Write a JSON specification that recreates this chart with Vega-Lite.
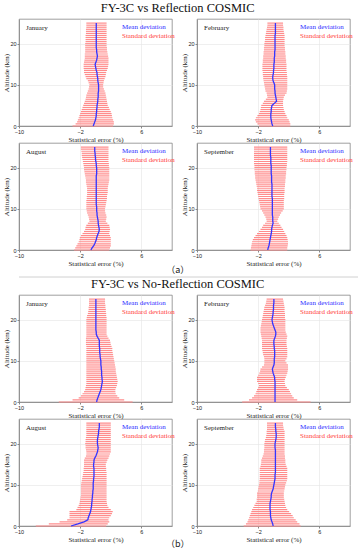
{
"$schema": "https://vega.github.io/schema/vega-lite/v6.json",
"padding": {"left": 2, "top": 2, "right": 0, "bottom": 0},
"autosize": {"type": "pad"},
"spacing": 0,
"datasets": {
"aJan": [
{"h":0,"m":-0.3,"l":-3.0,"u":2.3},{"h":0.5,"m":-0.2,"l":-2.6,"u":2.4},{"h":1,"m":-0.1,"l":-2.4,"u":2.4},{"h":1.5,"m":0.0,"l":-2.3,"u":2.3},{"h":2,"m":0.05,"l":-2.2,"u":2.2},{"h":2.5,"m":0.1,"l":-2.1,"u":2.15},{"h":3,"m":0.1,"l":-2.0,"u":2.1},{"h":3.5,"m":0.15,"l":-1.9,"u":2.0},{"h":4,"m":0.15,"l":-1.8,"u":1.85},{"h":4.5,"m":0.2,"l":-1.7,"u":1.75},{"h":5,"m":0.2,"l":-1.6,"u":1.6},{"h":5.5,"m":0.25,"l":-1.5,"u":1.55},{"h":6,"m":0.3,"l":-1.4,"u":1.5},{"h":6.5,"m":0.3,"l":-1.3,"u":1.45},{"h":7,"m":0.35,"l":-1.25,"u":1.4},{"h":7.5,"m":0.35,"l":-1.2,"u":1.35},{"h":8,"m":0.35,"l":-1.1,"u":1.3},{"h":8.5,"m":0.4,"l":-1.0,"u":1.2},{"h":9,"m":0.4,"l":-0.9,"u":1.1},{"h":9.5,"m":0.4,"l":-0.85,"u":1.0},{"h":10,"m":0.4,"l":-0.8,"u":1.0},{"h":10.5,"m":0.35,"l":-0.9,"u":1.05},{"h":11,"m":0.3,"l":-1.0,"u":1.1},{"h":11.5,"m":0.3,"l":-1.2,"u":1.2},{"h":12,"m":0.25,"l":-1.3,"u":1.3},{"h":12.5,"m":0.2,"l":-1.4,"u":1.35},{"h":13,"m":0.2,"l":-1.5,"u":1.4},{"h":13.5,"m":0.1,"l":-1.5,"u":1.5},{"h":14,"m":0.05,"l":-1.55,"u":1.6},{"h":14.5,"m":0.0,"l":-1.55,"u":1.65},{"h":15,"m":-0.05,"l":-1.55,"u":1.7},{"h":15.5,"m":0.05,"l":-1.5,"u":1.7},{"h":16,"m":0.15,"l":-1.45,"u":1.7},{"h":16.5,"m":0.2,"l":-1.4,"u":1.7},{"h":17,"m":0.25,"l":-1.4,"u":1.65},{"h":17.5,"m":0.2,"l":-1.4,"u":1.6},{"h":18,"m":0.15,"l":-1.35,"u":1.55},{"h":18.5,"m":0.15,"l":-1.35,"u":1.5},{"h":19,"m":0.1,"l":-1.35,"u":1.5},{"h":19.5,"m":0.1,"l":-1.35,"u":1.45},{"h":20,"m":0.1,"l":-1.35,"u":1.45},{"h":20.5,"m":0.1,"l":-1.3,"u":1.45},{"h":21,"m":0.1,"l":-1.3,"u":1.45},{"h":21.5,"m":0.1,"l":-1.3,"u":1.45},{"h":22,"m":0.1,"l":-1.3,"u":1.45},{"h":22.5,"m":0.1,"l":-1.25,"u":1.45},{"h":23,"m":0.1,"l":-1.25,"u":1.45},{"h":23.5,"m":0.1,"l":-1.25,"u":1.45},{"h":24,"m":0.1,"l":-1.2,"u":1.45},{"h":24.5,"m":0.1,"l":-1.2,"u":1.45},{"h":25,"m":0.1,"l":-1.2,"u":1.45}
],
"aFeb": [
{"h":0,"m":-0.1,"l":-1.9,"u":2.2},{"h":0.5,"m":-0.2,"l":-2.1,"u":2.2},{"h":1,"m":-0.25,"l":-2.3,"u":2.1},{"h":1.5,"m":-0.3,"l":-2.4,"u":2.0},{"h":2,"m":-0.35,"l":-2.3,"u":1.8},{"h":2.5,"m":-0.35,"l":-2.1,"u":1.7},{"h":3,"m":-0.35,"l":-1.9,"u":1.55},{"h":3.5,"m":-0.3,"l":-1.8,"u":1.45},{"h":4,"m":-0.3,"l":-1.7,"u":1.35},{"h":4.5,"m":-0.25,"l":-1.65,"u":1.3},{"h":5,"m":-0.2,"l":-1.6,"u":1.25},{"h":5.5,"m":0.1,"l":-1.4,"u":1.25},{"h":6,"m":0.4,"l":-1.25,"u":1.25},{"h":6.5,"m":0.35,"l":-1.0,"u":1.3},{"h":7,"m":0.3,"l":-0.8,"u":1.35},{"h":7.5,"m":0.25,"l":-0.85,"u":1.5},{"h":8,"m":0.2,"l":-0.9,"u":1.7},{"h":8.5,"m":0.2,"l":-1.05,"u":1.75},{"h":9,"m":0.15,"l":-1.1,"u":1.8},{"h":9.5,"m":0.15,"l":-1.15,"u":1.8},{"h":10,"m":0.15,"l":-1.2,"u":1.8},{"h":10.5,"m":0.05,"l":-1.25,"u":1.8},{"h":11,"m":-0.05,"l":-1.3,"u":1.8},{"h":11.5,"m":-0.1,"l":-1.35,"u":1.8},{"h":12,"m":-0.1,"l":-1.35,"u":1.8},{"h":12.5,"m":-0.05,"l":-1.4,"u":1.75},{"h":13,"m":0.0,"l":-1.4,"u":1.75},{"h":13.5,"m":0.0,"l":-1.45,"u":1.7},{"h":14,"m":0.05,"l":-1.45,"u":1.7},{"h":14.5,"m":0.05,"l":-1.45,"u":1.7},{"h":15,"m":0.05,"l":-1.45,"u":1.7},{"h":15.5,"m":0.1,"l":-1.4,"u":1.65},{"h":16,"m":0.1,"l":-1.4,"u":1.65},{"h":16.5,"m":0.1,"l":-1.35,"u":1.6},{"h":17,"m":0.15,"l":-1.35,"u":1.6},{"h":17.5,"m":0.15,"l":-1.3,"u":1.55},{"h":18,"m":0.15,"l":-1.3,"u":1.55},{"h":18.5,"m":0.2,"l":-1.25,"u":1.5},{"h":19,"m":0.2,"l":-1.25,"u":1.5},{"h":19.5,"m":0.2,"l":-1.2,"u":1.45},{"h":20,"m":0.2,"l":-1.2,"u":1.45},{"h":20.5,"m":0.2,"l":-1.15,"u":1.45},{"h":21,"m":0.2,"l":-1.1,"u":1.45},{"h":21.5,"m":0.2,"l":-1.1,"u":1.45},{"h":22,"m":0.2,"l":-1.05,"u":1.45},{"h":22.5,"m":0.25,"l":-1.0,"u":1.4},{"h":23,"m":0.25,"l":-0.95,"u":1.35},{"h":23.5,"m":0.25,"l":-0.9,"u":1.3},{"h":24,"m":0.25,"l":-0.85,"u":1.3},{"h":24.5,"m":0.25,"l":-0.8,"u":1.25},{"h":25,"m":0.25,"l":-0.8,"u":1.25}
],
"aAug": [
{"h":0,"m":-0.6,"l":-2.8,"u":1.8},{"h":0.5,"m":-0.45,"l":-2.65,"u":1.9},{"h":1,"m":-0.25,"l":-2.5,"u":2.0},{"h":1.5,"m":-0.1,"l":-2.35,"u":2.0},{"h":2,"m":0.0,"l":-2.2,"u":2.0},{"h":2.5,"m":0.1,"l":-2.1,"u":2.0},{"h":3,"m":0.15,"l":-2.05,"u":2.0},{"h":3.5,"m":0.25,"l":-1.9,"u":1.9},{"h":4,"m":0.35,"l":-1.7,"u":1.8},{"h":4.5,"m":0.45,"l":-1.5,"u":1.85},{"h":5,"m":0.5,"l":-1.35,"u":1.9},{"h":5.5,"m":0.45,"l":-1.3,"u":1.85},{"h":6,"m":0.4,"l":-1.2,"u":1.8},{"h":6.5,"m":0.35,"l":-1.0,"u":1.55},{"h":7,"m":0.35,"l":-0.8,"u":1.35},{"h":7.5,"m":0.3,"l":-0.85,"u":1.4},{"h":8,"m":0.25,"l":-0.9,"u":1.45},{"h":8.5,"m":0.2,"l":-1.0,"u":1.4},{"h":9,"m":0.2,"l":-1.1,"u":1.3},{"h":9.5,"m":0.15,"l":-1.15,"u":1.25},{"h":10,"m":0.15,"l":-1.2,"u":1.25},{"h":10.5,"m":0.15,"l":-1.2,"u":1.3},{"h":11,"m":0.1,"l":-1.2,"u":1.35},{"h":11.5,"m":0.1,"l":-1.2,"u":1.4},{"h":12,"m":0.1,"l":-1.2,"u":1.45},{"h":12.5,"m":0.1,"l":-1.15,"u":1.5},{"h":13,"m":0.1,"l":-1.15,"u":1.5},{"h":13.5,"m":0.1,"l":-1.1,"u":1.55},{"h":14,"m":0.1,"l":-1.1,"u":1.6},{"h":14.5,"m":0.1,"l":-1.1,"u":1.6},{"h":15,"m":0.1,"l":-1.1,"u":1.6},{"h":15.5,"m":0.1,"l":-1.15,"u":1.65},{"h":16,"m":0.1,"l":-1.2,"u":1.7},{"h":16.5,"m":0.1,"l":-1.25,"u":1.75},{"h":17,"m":0.1,"l":-1.25,"u":1.8},{"h":17.5,"m":0.1,"l":-1.3,"u":1.8},{"h":18,"m":0.1,"l":-1.35,"u":1.8},{"h":18.5,"m":0.15,"l":-1.4,"u":1.8},{"h":19,"m":0.15,"l":-1.45,"u":1.8},{"h":19.5,"m":0.15,"l":-1.5,"u":1.8},{"h":20,"m":0.15,"l":-1.5,"u":1.8},{"h":20.5,"m":0.1,"l":-1.55,"u":1.75},{"h":21,"m":0.1,"l":-1.6,"u":1.75},{"h":21.5,"m":0.05,"l":-1.65,"u":1.7},{"h":22,"m":0.0,"l":-1.7,"u":1.7},{"h":22.5,"m":0.0,"l":-1.75,"u":1.7},{"h":23,"m":-0.05,"l":-1.8,"u":1.7},{"h":23.5,"m":-0.05,"l":-1.8,"u":1.7},{"h":24,"m":-0.1,"l":-1.85,"u":1.7},{"h":24.5,"m":-0.1,"l":-1.9,"u":1.7},{"h":25,"m":-0.1,"l":-1.9,"u":1.7}
],
"aSep": [
{"h":0,"m":-0.75,"l":-3.0,"u":1.8},{"h":0.5,"m":-0.7,"l":-2.95,"u":1.8},{"h":1,"m":-0.6,"l":-2.9,"u":1.85},{"h":1.5,"m":-0.55,"l":-2.85,"u":1.9},{"h":2,"m":-0.5,"l":-2.8,"u":1.9},{"h":2.5,"m":-0.45,"l":-2.7,"u":1.85},{"h":3,"m":-0.4,"l":-2.55,"u":1.8},{"h":3.5,"m":-0.35,"l":-2.35,"u":1.7},{"h":4,"m":-0.3,"l":-2.15,"u":1.55},{"h":4.5,"m":-0.25,"l":-1.9,"u":1.4},{"h":5,"m":-0.25,"l":-1.7,"u":1.25},{"h":5.5,"m":-0.2,"l":-1.5,"u":1.05},{"h":6,"m":-0.15,"l":-1.35,"u":0.9},{"h":6.5,"m":-0.05,"l":-1.1,"u":0.7},{"h":7,"m":-0.1,"l":-0.9,"u":0.5},{"h":7.5,"m":-0.1,"l":-0.95,"u":0.6},{"h":8,"m":-0.1,"l":-1.05,"u":0.7},{"h":8.5,"m":-0.15,"l":-1.2,"u":0.85},{"h":9,"m":-0.15,"l":-1.35,"u":1.0},{"h":9.5,"m":-0.15,"l":-1.5,"u":1.2},{"h":10,"m":-0.15,"l":-1.7,"u":1.35},{"h":10.5,"m":-0.15,"l":-1.75,"u":1.35},{"h":11,"m":-0.15,"l":-1.8,"u":1.35},{"h":11.5,"m":-0.15,"l":-1.85,"u":1.35},{"h":12,"m":-0.15,"l":-1.9,"u":1.35},{"h":12.5,"m":-0.15,"l":-1.95,"u":1.4},{"h":13,"m":-0.2,"l":-2.0,"u":1.4},{"h":13.5,"m":-0.2,"l":-2.05,"u":1.4},{"h":14,"m":-0.2,"l":-2.1,"u":1.45},{"h":14.5,"m":-0.2,"l":-2.15,"u":1.45},{"h":15,"m":-0.2,"l":-2.15,"u":1.45},{"h":15.5,"m":-0.2,"l":-2.2,"u":1.5},{"h":16,"m":-0.2,"l":-2.25,"u":1.5},{"h":16.5,"m":-0.25,"l":-2.3,"u":1.55},{"h":17,"m":-0.25,"l":-2.35,"u":1.55},{"h":17.5,"m":-0.25,"l":-2.4,"u":1.6},{"h":18,"m":-0.25,"l":-2.4,"u":1.6},{"h":18.5,"m":-0.3,"l":-2.45,"u":1.65},{"h":19,"m":-0.3,"l":-2.45,"u":1.65},{"h":19.5,"m":-0.3,"l":-2.5,"u":1.7},{"h":20,"m":-0.3,"l":-2.5,"u":1.7},{"h":20.5,"m":-0.3,"l":-2.5,"u":1.75},{"h":21,"m":-0.35,"l":-2.55,"u":1.75},{"h":21.5,"m":-0.35,"l":-2.55,"u":1.8},{"h":22,"m":-0.35,"l":-2.55,"u":1.8},{"h":22.5,"m":-0.35,"l":-2.55,"u":1.8},{"h":23,"m":-0.4,"l":-2.55,"u":1.8},{"h":23.5,"m":-0.4,"l":-2.55,"u":1.8},{"h":24,"m":-0.4,"l":-2.55,"u":1.8},{"h":24.5,"m":-0.4,"l":-2.55,"u":1.8},{"h":25,"m":-0.4,"l":-2.55,"u":1.8}
],
"bJan": [
{"h":0,"m":0.15,"l":-4.8,"u":4.85},{"h":0.5,"m":0.2,"l":-3.0,"u":3.75},{"h":1,"m":0.3,"l":-2.2,"u":3.1},{"h":1.5,"m":0.4,"l":-1.9,"u":2.85},{"h":2,"m":0.5,"l":-1.7,"u":2.65},{"h":2.5,"m":0.6,"l":-1.5,"u":2.6},{"h":3,"m":0.7,"l":-1.35,"u":2.6},{"h":3.5,"m":0.75,"l":-1.3,"u":2.7},{"h":4,"m":0.8,"l":-1.25,"u":2.8},{"h":4.5,"m":0.85,"l":-1.2,"u":2.85},{"h":5,"m":0.9,"l":-1.2,"u":2.9},{"h":5.5,"m":0.85,"l":-1.2,"u":2.85},{"h":6,"m":0.85,"l":-1.2,"u":2.8},{"h":6.5,"m":0.8,"l":-1.2,"u":2.75},{"h":7,"m":0.8,"l":-1.2,"u":2.7},{"h":7.5,"m":0.8,"l":-1.2,"u":2.65},{"h":8,"m":0.75,"l":-1.2,"u":2.65},{"h":8.5,"m":0.75,"l":-1.2,"u":2.6},{"h":9,"m":0.7,"l":-1.2,"u":2.55},{"h":9.5,"m":0.7,"l":-1.2,"u":2.5},{"h":10,"m":0.7,"l":-1.2,"u":2.45},{"h":10.5,"m":0.65,"l":-1.2,"u":2.4},{"h":11,"m":0.6,"l":-1.2,"u":2.35},{"h":11.5,"m":0.6,"l":-1.2,"u":2.3},{"h":12,"m":0.55,"l":-1.2,"u":2.25},{"h":12.5,"m":0.55,"l":-1.2,"u":2.2},{"h":13,"m":0.55,"l":-1.2,"u":2.2},{"h":13.5,"m":0.5,"l":-1.2,"u":2.1},{"h":14,"m":0.5,"l":-1.25,"u":2.0},{"h":14.5,"m":0.5,"l":-1.25,"u":1.95},{"h":15,"m":0.5,"l":-1.25,"u":1.9},{"h":15.5,"m":0.35,"l":-1.25,"u":1.7},{"h":16,"m":0.2,"l":-1.2,"u":1.55},{"h":16.5,"m":0.1,"l":-1.2,"u":1.45},{"h":17,"m":0.1,"l":-1.2,"u":1.45},{"h":17.5,"m":0.05,"l":-1.2,"u":1.45},{"h":18,"m":0.05,"l":-1.2,"u":1.45},{"h":18.5,"m":0.05,"l":-1.2,"u":1.45},{"h":19,"m":0.05,"l":-1.2,"u":1.45},{"h":19.5,"m":0.05,"l":-1.2,"u":1.45},{"h":20,"m":0.05,"l":-1.2,"u":1.45},{"h":20.5,"m":0.05,"l":-1.15,"u":1.45},{"h":21,"m":0.05,"l":-1.1,"u":1.4},{"h":21.5,"m":0.05,"l":-1.0,"u":1.4},{"h":22,"m":0.05,"l":-0.95,"u":1.35},{"h":22.5,"m":0.05,"l":-0.9,"u":1.35},{"h":23,"m":0.05,"l":-0.9,"u":1.3},{"h":23.5,"m":0.05,"l":-0.85,"u":1.3},{"h":24,"m":0.05,"l":-0.85,"u":1.25},{"h":24.5,"m":0.05,"l":-0.85,"u":1.25},{"h":25,"m":0.05,"l":-0.85,"u":1.25}
],
"bFeb": [
{"h":0,"m":0.2,"l":-4.1,"u":4.85},{"h":0.5,"m":0.2,"l":-3.2,"u":3.1},{"h":1,"m":0.2,"l":-2.8,"u":2.65},{"h":1.5,"m":0.2,"l":-2.55,"u":2.45},{"h":2,"m":0.2,"l":-2.35,"u":2.3},{"h":2.5,"m":0.2,"l":-2.25,"u":2.15},{"h":3,"m":0.2,"l":-2.15,"u":2.0},{"h":3.5,"m":0.2,"l":-2.0,"u":1.75},{"h":4,"m":0.2,"l":-1.9,"u":1.55},{"h":4.5,"m":0.2,"l":-2.0,"u":1.5},{"h":5,"m":0.2,"l":-2.15,"u":1.45},{"h":5.5,"m":0.15,"l":-2.15,"u":1.5},{"h":6,"m":0.15,"l":-2.15,"u":1.6},{"h":6.5,"m":0.05,"l":-2.0,"u":1.7},{"h":7,"m":-0.05,"l":-1.85,"u":1.8},{"h":7.5,"m":-0.1,"l":-1.75,"u":1.85},{"h":8,"m":-0.15,"l":-1.7,"u":1.9},{"h":8.5,"m":-0.05,"l":-1.5,"u":1.9},{"h":9,"m":0.05,"l":-1.25,"u":1.9},{"h":9.5,"m":0.1,"l":-1.2,"u":1.7},{"h":10,"m":0.1,"l":-1.2,"u":1.55},{"h":10.5,"m":0.1,"l":-1.2,"u":1.7},{"h":11,"m":0.15,"l":-1.25,"u":1.8},{"h":11.5,"m":0.15,"l":-1.35,"u":1.8},{"h":12,"m":0.15,"l":-1.4,"u":1.8},{"h":12.5,"m":0.15,"l":-1.45,"u":1.8},{"h":13,"m":0.1,"l":-1.5,"u":1.8},{"h":13.5,"m":0.1,"l":-1.5,"u":1.75},{"h":14,"m":0.05,"l":-1.5,"u":1.7},{"h":14.5,"m":0.05,"l":-1.5,"u":1.7},{"h":15,"m":0.05,"l":-1.5,"u":1.7},{"h":15.5,"m":0.15,"l":-1.55,"u":1.75},{"h":16,"m":0.25,"l":-1.6,"u":1.8},{"h":16.5,"m":0.3,"l":-1.65,"u":1.7},{"h":17,"m":0.3,"l":-1.7,"u":1.6},{"h":17.5,"m":0.2,"l":-1.7,"u":1.55},{"h":18,"m":0.1,"l":-1.7,"u":1.55},{"h":18.5,"m":0.0,"l":-1.65,"u":1.55},{"h":19,"m":-0.1,"l":-1.6,"u":1.55},{"h":19.5,"m":-0.15,"l":-1.55,"u":1.55},{"h":20,"m":-0.2,"l":-1.5,"u":1.55},{"h":20.5,"m":-0.15,"l":-1.45,"u":1.5},{"h":21,"m":-0.1,"l":-1.4,"u":1.5},{"h":21.5,"m":-0.05,"l":-1.35,"u":1.5},{"h":22,"m":-0.05,"l":-1.3,"u":1.45},{"h":22.5,"m":0.0,"l":-1.25,"u":1.45},{"h":23,"m":0.0,"l":-1.2,"u":1.45},{"h":23.5,"m":0.0,"l":-1.1,"u":1.4},{"h":24,"m":0.05,"l":-1.0,"u":1.35},{"h":24.5,"m":0.05,"l":-0.95,"u":1.3},{"h":25,"m":0.05,"l":-0.9,"u":1.25}
],
"bAug": [
{"h":0,"m":-3.2,"l":-7.8,"u":1.4},{"h":0.5,"m":-2.3,"l":-6.1,"u":1.6},{"h":1,"m":-1.5,"l":-4.7,"u":1.8},{"h":1.5,"m":-1.0,"l":-3.7,"u":1.7},{"h":2,"m":-0.95,"l":-3.4,"u":1.8},{"h":2.5,"m":-0.85,"l":-3.4,"u":2.0},{"h":3,"m":-0.75,"l":-3.4,"u":2.15},{"h":3.5,"m":-0.65,"l":-3.4,"u":2.25},{"h":4,"m":-0.6,"l":-2.5,"u":2.0},{"h":4.5,"m":-0.55,"l":-2.35,"u":1.7},{"h":5,"m":-0.5,"l":-2.2,"u":1.55},{"h":5.5,"m":-0.5,"l":-2.1,"u":1.5},{"h":6,"m":-0.45,"l":-2.05,"u":1.45},{"h":6.5,"m":-0.45,"l":-2.0,"u":1.45},{"h":7,"m":-0.4,"l":-1.95,"u":1.45},{"h":7.5,"m":-0.4,"l":-1.9,"u":1.45},{"h":8,"m":-0.35,"l":-1.9,"u":1.45},{"h":8.5,"m":-0.35,"l":-1.9,"u":1.45},{"h":9,"m":-0.3,"l":-1.9,"u":1.45},{"h":9.5,"m":-0.3,"l":-1.9,"u":1.45},{"h":10,"m":-0.3,"l":-1.9,"u":1.45},{"h":10.5,"m":-0.3,"l":-1.85,"u":1.45},{"h":11,"m":-0.25,"l":-1.8,"u":1.45},{"h":11.5,"m":-0.25,"l":-1.75,"u":1.45},{"h":12,"m":-0.2,"l":-1.7,"u":1.45},{"h":12.5,"m":-0.2,"l":-1.65,"u":1.45},{"h":13,"m":-0.2,"l":-1.6,"u":1.45},{"h":13.5,"m":-0.2,"l":-1.55,"u":1.4},{"h":14,"m":-0.2,"l":-1.55,"u":1.4},{"h":14.5,"m":-0.25,"l":-1.5,"u":1.35},{"h":15,"m":-0.25,"l":-1.5,"u":1.35},{"h":15.5,"m":-0.2,"l":-1.5,"u":1.45},{"h":16,"m":-0.2,"l":-1.5,"u":1.55},{"h":16.5,"m":-0.1,"l":-1.4,"u":1.7},{"h":17,"m":0.05,"l":-1.25,"u":1.8},{"h":17.5,"m":0.15,"l":-1.2,"u":1.9},{"h":18,"m":0.25,"l":-1.2,"u":2.0},{"h":18.5,"m":0.3,"l":-1.25,"u":2.0},{"h":19,"m":0.35,"l":-1.3,"u":2.0},{"h":19.5,"m":0.3,"l":-1.3,"u":2.0},{"h":20,"m":0.25,"l":-1.35,"u":2.0},{"h":20.5,"m":0.25,"l":-1.3,"u":2.0},{"h":21,"m":0.25,"l":-1.3,"u":2.0},{"h":21.5,"m":0.3,"l":-1.25,"u":2.0},{"h":22,"m":0.35,"l":-1.2,"u":2.0},{"h":22.5,"m":0.4,"l":-1.2,"u":2.0},{"h":23,"m":0.4,"l":-1.2,"u":2.0},{"h":23.5,"m":0.45,"l":-1.2,"u":2.0},{"h":24,"m":0.5,"l":-1.2,"u":2.0},{"h":24.5,"m":0.5,"l":-1.2,"u":2.0},{"h":25,"m":0.5,"l":-1.2,"u":2.0}
],
"bSep": [
{"h":0,"m":-0.05,"l":-3.9,"u":3.55},{"h":0.5,"m":-0.1,"l":-3.6,"u":3.4},{"h":1,"m":-0.2,"l":-3.4,"u":3.1},{"h":1.5,"m":-0.3,"l":-3.3,"u":2.9},{"h":2,"m":-0.35,"l":-3.2,"u":2.65},{"h":2.5,"m":-0.4,"l":-3.1,"u":2.5},{"h":3,"m":-0.4,"l":-3.0,"u":2.3},{"h":3.5,"m":-0.4,"l":-2.9,"u":2.05},{"h":4,"m":-0.45,"l":-2.8,"u":1.8},{"h":4.5,"m":-0.45,"l":-2.65,"u":1.65},{"h":5,"m":-0.45,"l":-2.5,"u":1.55},{"h":5.5,"m":-0.45,"l":-2.35,"u":1.5},{"h":6,"m":-0.4,"l":-2.2,"u":1.45},{"h":6.5,"m":-0.35,"l":-2.2,"u":1.4},{"h":7,"m":-0.3,"l":-2.15,"u":1.35},{"h":7.5,"m":-0.3,"l":-2.15,"u":1.35},{"h":8,"m":-0.25,"l":-2.15,"u":1.35},{"h":8.5,"m":-0.15,"l":-2.05,"u":1.4},{"h":9,"m":-0.05,"l":-2.0,"u":1.45},{"h":9.5,"m":0.0,"l":-1.95,"u":1.5},{"h":10,"m":0.05,"l":-1.9,"u":1.55},{"h":10.5,"m":0.1,"l":-1.85,"u":1.65},{"h":11,"m":0.15,"l":-1.85,"u":1.75},{"h":11.5,"m":0.2,"l":-1.8,"u":1.8},{"h":12,"m":0.2,"l":-1.8,"u":1.8},{"h":12.5,"m":0.2,"l":-1.8,"u":1.8},{"h":13,"m":0.25,"l":-1.8,"u":1.8},{"h":13.5,"m":0.25,"l":-1.8,"u":1.8},{"h":14,"m":0.25,"l":-1.8,"u":1.8},{"h":14.5,"m":0.25,"l":-1.7,"u":1.7},{"h":15,"m":0.25,"l":-1.65,"u":1.6},{"h":15.5,"m":0.25,"l":-1.6,"u":1.55},{"h":16,"m":0.25,"l":-1.6,"u":1.55},{"h":16.5,"m":0.25,"l":-1.5,"u":1.5},{"h":17,"m":0.25,"l":-1.4,"u":1.5},{"h":17.5,"m":0.25,"l":-1.3,"u":1.45},{"h":18,"m":0.25,"l":-1.25,"u":1.45},{"h":18.5,"m":0.25,"l":-1.25,"u":1.45},{"h":19,"m":0.2,"l":-1.2,"u":1.45},{"h":19.5,"m":0.2,"l":-1.2,"u":1.45},{"h":20,"m":0.2,"l":-1.2,"u":1.45},{"h":20.5,"m":0.25,"l":-1.15,"u":1.45},{"h":21,"m":0.3,"l":-1.1,"u":1.45},{"h":21.5,"m":0.35,"l":-1.0,"u":1.45},{"h":22,"m":0.35,"l":-0.95,"u":1.45},{"h":22.5,"m":0.35,"l":-0.9,"u":1.45},{"h":23,"m":0.3,"l":-0.9,"u":1.45},{"h":23.5,"m":0.3,"l":-0.85,"u":1.35},{"h":24,"m":0.25,"l":-0.85,"u":1.3},{"h":24.5,"m":0.25,"l":-0.85,"u":1.25},{"h":25,"m":0.25,"l":-0.85,"u":1.25}
],
"sep": [{"k": 0.5}]
},
"resolve": {"scale": {"color": "independent"}},
"vconcat": [
{
"title": {"text": "（a）", "orient": "bottom", "anchor": "middle", "font": "Noto Sans CJK SC", "fontSize": 9, "fontWeight": "normal", "offset": 0, "color": "#222"},
"resolve": {"scale": {"color": "independent"}},
"vconcat": [
{
"title": {"text": "FY-3C vs Reflection COSMIC", "anchor": "middle", "font": "Liberation Serif", "fontSize": 12.5, "fontWeight": "normal", "offset": 4, "color": "#111"},
"resolve": {"scale": {"color": "independent"}},
"spacing": -1,
"vconcat": [
{"hconcat": [
{"data": {"name": "aJan"}, "title": {"text": "January", "anchor": "start", "frame": "group", "offset": -12, "dx": 7, "fontSize": 7, "fontWeight": "normal", "font": "Liberation Serif", "color": "#222"}, "width": 153, "height": 107, "layer": [
{"mark": {"type": "bar", "size": 1.2}, "encoding": {"y": {"field": "h", "type": "quantitative", "scale": {"domain": [0, 25], "padding": 0}, "axis": {"values": [0, 5, 10, 15, 20, 25], "labelOverlap": false}, "title": "Altitude (km)"}, "x": {"field": "l", "type": "quantitative", "scale": {"domain": [-10, 10]}, "axis": {"values": [-10, -8, -6, -4, -2, 0, 2, 4, 6, 8, 10], "labelOverlap": false}, "title": "Statistical error (%)"}, "x2": {"field": "u"}, "color": {"datum": "Standard deviation", "type": "nominal", "scale": {"domain": ["Mean deviation", "Standard deviation"], "range": ["#3535ff", "#ff8c8c"]}, "legend": {"title": null, "orient": "none", "legendX": 96, "legendY": 4, "symbolOpacity": 0, "symbolSize": 0, "symbolStrokeWidth": 0, "labelOffset": 0, "labelAlign": "left", "labelFont": "Liberation Serif", "labelFontSize": 7, "rowPadding": 1, "padding": 0, "encode": {"labels": {"update": {"fill": {"signal": "datum.value === 'Mean deviation' ? '#2b2bff' : '#ff3b3b'"}}}}}}}},
{"mark": {"type": "line", "strokeWidth": 1.3}, "encoding": {"y": {"field": "h", "type": "quantitative"}, "x": {"field": "m", "type": "quantitative"}, "order": {"field": "h"}, "color": {"datum": "Mean deviation", "type": "nominal"}}}
]},
{"data": {"name": "aFeb"}, "title": {"text": "February", "anchor": "start", "frame": "group", "offset": -12, "dx": 7, "fontSize": 7, "fontWeight": "normal", "font": "Liberation Serif", "color": "#222"}, "width": 153, "height": 107, "layer": [
{"mark": {"type": "bar", "size": 1.2}, "encoding": {"y": {"field": "h", "type": "quantitative", "scale": {"domain": [0, 25], "padding": 0}, "axis": {"values": [0, 5, 10, 15, 20, 25], "labelOverlap": false}, "title": "Altitude (km)"}, "x": {"field": "l", "type": "quantitative", "scale": {"domain": [-10, 10]}, "axis": {"values": [-10, -8, -6, -4, -2, 0, 2, 4, 6, 8, 10], "labelOverlap": false}, "title": "Statistical error (%)"}, "x2": {"field": "u"}, "color": {"datum": "Standard deviation", "type": "nominal", "scale": {"domain": ["Mean deviation", "Standard deviation"], "range": ["#3535ff", "#ff8c8c"]}, "legend": {"title": null, "orient": "none", "legendX": 96, "legendY": 4, "symbolOpacity": 0, "symbolSize": 0, "symbolStrokeWidth": 0, "labelOffset": 0, "labelAlign": "left", "labelFont": "Liberation Serif", "labelFontSize": 7, "rowPadding": 1, "padding": 0, "encode": {"labels": {"update": {"fill": {"signal": "datum.value === 'Mean deviation' ? '#2b2bff' : '#ff3b3b'"}}}}}}}},
{"mark": {"type": "line", "strokeWidth": 1.3}, "encoding": {"y": {"field": "h", "type": "quantitative"}, "x": {"field": "m", "type": "quantitative"}, "order": {"field": "h"}, "color": {"datum": "Mean deviation", "type": "nominal"}}}
]}
], "spacing": 4, "resolve": {"scale": {"color": "independent"}}},
{"hconcat": [
{"data": {"name": "aAug"}, "title": {"text": "August", "anchor": "start", "frame": "group", "offset": -12, "dx": 7, "fontSize": 7, "fontWeight": "normal", "font": "Liberation Serif", "color": "#222"}, "width": 153, "height": 107, "layer": [
{"mark": {"type": "bar", "size": 1.2}, "encoding": {"y": {"field": "h", "type": "quantitative", "scale": {"domain": [0, 25], "padding": 0}, "axis": {"values": [0, 5, 10, 15, 20, 25], "labelOverlap": false}, "title": "Altitude (km)"}, "x": {"field": "l", "type": "quantitative", "scale": {"domain": [-10, 10]}, "axis": {"values": [-10, -8, -6, -4, -2, 0, 2, 4, 6, 8, 10], "labelOverlap": false}, "title": "Statistical error (%)"}, "x2": {"field": "u"}, "color": {"datum": "Standard deviation", "type": "nominal", "scale": {"domain": ["Mean deviation", "Standard deviation"], "range": ["#3535ff", "#ff8c8c"]}, "legend": {"title": null, "orient": "none", "legendX": 96, "legendY": 4, "symbolOpacity": 0, "symbolSize": 0, "symbolStrokeWidth": 0, "labelOffset": 0, "labelAlign": "left", "labelFont": "Liberation Serif", "labelFontSize": 7, "rowPadding": 1, "padding": 0, "encode": {"labels": {"update": {"fill": {"signal": "datum.value === 'Mean deviation' ? '#2b2bff' : '#ff3b3b'"}}}}}}}},
{"mark": {"type": "line", "strokeWidth": 1.3}, "encoding": {"y": {"field": "h", "type": "quantitative"}, "x": {"field": "m", "type": "quantitative"}, "order": {"field": "h"}, "color": {"datum": "Mean deviation", "type": "nominal"}}}
]},
{"data": {"name": "aSep"}, "title": {"text": "September", "anchor": "start", "frame": "group", "offset": -12, "dx": 7, "fontSize": 7, "fontWeight": "normal", "font": "Liberation Serif", "color": "#222"}, "width": 153, "height": 107, "layer": [
{"mark": {"type": "bar", "size": 1.2}, "encoding": {"y": {"field": "h", "type": "quantitative", "scale": {"domain": [0, 25], "padding": 0}, "axis": {"values": [0, 5, 10, 15, 20, 25], "labelOverlap": false}, "title": "Altitude (km)"}, "x": {"field": "l", "type": "quantitative", "scale": {"domain": [-10, 10]}, "axis": {"values": [-10, -8, -6, -4, -2, 0, 2, 4, 6, 8, 10], "labelOverlap": false}, "title": "Statistical error (%)"}, "x2": {"field": "u"}, "color": {"datum": "Standard deviation", "type": "nominal", "scale": {"domain": ["Mean deviation", "Standard deviation"], "range": ["#3535ff", "#ff8c8c"]}, "legend": {"title": null, "orient": "none", "legendX": 96, "legendY": 4, "symbolOpacity": 0, "symbolSize": 0, "symbolStrokeWidth": 0, "labelOffset": 0, "labelAlign": "left", "labelFont": "Liberation Serif", "labelFontSize": 7, "rowPadding": 1, "padding": 0, "encode": {"labels": {"update": {"fill": {"signal": "datum.value === 'Mean deviation' ? '#2b2bff' : '#ff3b3b'"}}}}}}}},
{"mark": {"type": "line", "strokeWidth": 1.3}, "encoding": {"y": {"field": "h", "type": "quantitative"}, "x": {"field": "m", "type": "quantitative"}, "order": {"field": "h"}, "color": {"datum": "Mean deviation", "type": "nominal"}}}
]}
], "spacing": 4, "resolve": {"scale": {"color": "independent"}}}
]
}
]
},
{
"data": {"name": "sep"},
"width": 354, "height": 2,
"view": {"stroke": null},
"mark": {"type": "rule", "color": "#c4c4c4", "strokeWidth": 0.8},
"encoding": {"y": {"field": "k", "type": "quantitative", "scale": {"domain": [0, 1]}, "axis": null}}
},
{
"title": {"text": "（b）", "orient": "bottom", "anchor": "middle", "font": "Noto Sans CJK SC", "fontSize": 9, "fontWeight": "normal", "offset": -2, "color": "#222"},
"resolve": {"scale": {"color": "independent"}},
"vconcat": [
{
"title": {"text": "FY-3C vs No-Reflection COSMIC", "anchor": "middle", "font": "Liberation Serif", "fontSize": 12.5, "fontWeight": "normal", "offset": 4, "color": "#111"},
"resolve": {"scale": {"color": "independent"}},
"spacing": -1,
"vconcat": [
{"hconcat": [
{"data": {"name": "bJan"}, "title": {"text": "January", "anchor": "start", "frame": "group", "offset": -12, "dx": 7, "fontSize": 7, "fontWeight": "normal", "font": "Liberation Serif", "color": "#222"}, "width": 153, "height": 107, "layer": [
{"mark": {"type": "bar", "size": 1.2}, "encoding": {"y": {"field": "h", "type": "quantitative", "scale": {"domain": [0, 25], "padding": 0}, "axis": {"values": [0, 5, 10, 15, 20, 25], "labelOverlap": false}, "title": "Altitude (km)"}, "x": {"field": "l", "type": "quantitative", "scale": {"domain": [-10, 10]}, "axis": {"values": [-10, -8, -6, -4, -2, 0, 2, 4, 6, 8, 10], "labelOverlap": false}, "title": "Statistical error (%)"}, "x2": {"field": "u"}, "color": {"datum": "Standard deviation", "type": "nominal", "scale": {"domain": ["Mean deviation", "Standard deviation"], "range": ["#3535ff", "#ff8c8c"]}, "legend": {"title": null, "orient": "none", "legendX": 96, "legendY": 4, "symbolOpacity": 0, "symbolSize": 0, "symbolStrokeWidth": 0, "labelOffset": 0, "labelAlign": "left", "labelFont": "Liberation Serif", "labelFontSize": 7, "rowPadding": 1, "padding": 0, "encode": {"labels": {"update": {"fill": {"signal": "datum.value === 'Mean deviation' ? '#2b2bff' : '#ff3b3b'"}}}}}}}},
{"mark": {"type": "line", "strokeWidth": 1.3}, "encoding": {"y": {"field": "h", "type": "quantitative"}, "x": {"field": "m", "type": "quantitative"}, "order": {"field": "h"}, "color": {"datum": "Mean deviation", "type": "nominal"}}}
]},
{"data": {"name": "bFeb"}, "title": {"text": "February", "anchor": "start", "frame": "group", "offset": -12, "dx": 7, "fontSize": 7, "fontWeight": "normal", "font": "Liberation Serif", "color": "#222"}, "width": 153, "height": 107, "layer": [
{"mark": {"type": "bar", "size": 1.2}, "encoding": {"y": {"field": "h", "type": "quantitative", "scale": {"domain": [0, 25], "padding": 0}, "axis": {"values": [0, 5, 10, 15, 20, 25], "labelOverlap": false}, "title": "Altitude (km)"}, "x": {"field": "l", "type": "quantitative", "scale": {"domain": [-10, 10]}, "axis": {"values": [-10, -8, -6, -4, -2, 0, 2, 4, 6, 8, 10], "labelOverlap": false}, "title": "Statistical error (%)"}, "x2": {"field": "u"}, "color": {"datum": "Standard deviation", "type": "nominal", "scale": {"domain": ["Mean deviation", "Standard deviation"], "range": ["#3535ff", "#ff8c8c"]}, "legend": {"title": null, "orient": "none", "legendX": 96, "legendY": 4, "symbolOpacity": 0, "symbolSize": 0, "symbolStrokeWidth": 0, "labelOffset": 0, "labelAlign": "left", "labelFont": "Liberation Serif", "labelFontSize": 7, "rowPadding": 1, "padding": 0, "encode": {"labels": {"update": {"fill": {"signal": "datum.value === 'Mean deviation' ? '#2b2bff' : '#ff3b3b'"}}}}}}}},
{"mark": {"type": "line", "strokeWidth": 1.3}, "encoding": {"y": {"field": "h", "type": "quantitative"}, "x": {"field": "m", "type": "quantitative"}, "order": {"field": "h"}, "color": {"datum": "Mean deviation", "type": "nominal"}}}
]}
], "spacing": 4, "resolve": {"scale": {"color": "independent"}}},
{"hconcat": [
{"data": {"name": "bAug"}, "title": {"text": "August", "anchor": "start", "frame": "group", "offset": -12, "dx": 7, "fontSize": 7, "fontWeight": "normal", "font": "Liberation Serif", "color": "#222"}, "width": 153, "height": 107, "layer": [
{"mark": {"type": "bar", "size": 1.2}, "encoding": {"y": {"field": "h", "type": "quantitative", "scale": {"domain": [0, 25], "padding": 0}, "axis": {"values": [0, 5, 10, 15, 20, 25], "labelOverlap": false}, "title": "Altitude (km)"}, "x": {"field": "l", "type": "quantitative", "scale": {"domain": [-10, 10]}, "axis": {"values": [-10, -8, -6, -4, -2, 0, 2, 4, 6, 8, 10], "labelOverlap": false}, "title": "Statistical error (%)"}, "x2": {"field": "u"}, "color": {"datum": "Standard deviation", "type": "nominal", "scale": {"domain": ["Mean deviation", "Standard deviation"], "range": ["#3535ff", "#ff8c8c"]}, "legend": {"title": null, "orient": "none", "legendX": 96, "legendY": 4, "symbolOpacity": 0, "symbolSize": 0, "symbolStrokeWidth": 0, "labelOffset": 0, "labelAlign": "left", "labelFont": "Liberation Serif", "labelFontSize": 7, "rowPadding": 1, "padding": 0, "encode": {"labels": {"update": {"fill": {"signal": "datum.value === 'Mean deviation' ? '#2b2bff' : '#ff3b3b'"}}}}}}}},
{"mark": {"type": "line", "strokeWidth": 1.3}, "encoding": {"y": {"field": "h", "type": "quantitative"}, "x": {"field": "m", "type": "quantitative"}, "order": {"field": "h"}, "color": {"datum": "Mean deviation", "type": "nominal"}}}
]},
{"data": {"name": "bSep"}, "title": {"text": "September", "anchor": "start", "frame": "group", "offset": -12, "dx": 7, "fontSize": 7, "fontWeight": "normal", "font": "Liberation Serif", "color": "#222"}, "width": 153, "height": 107, "layer": [
{"mark": {"type": "bar", "size": 1.2}, "encoding": {"y": {"field": "h", "type": "quantitative", "scale": {"domain": [0, 25], "padding": 0}, "axis": {"values": [0, 5, 10, 15, 20, 25], "labelOverlap": false}, "title": "Altitude (km)"}, "x": {"field": "l", "type": "quantitative", "scale": {"domain": [-10, 10]}, "axis": {"values": [-10, -8, -6, -4, -2, 0, 2, 4, 6, 8, 10], "labelOverlap": false}, "title": "Statistical error (%)"}, "x2": {"field": "u"}, "color": {"datum": "Standard deviation", "type": "nominal", "scale": {"domain": ["Mean deviation", "Standard deviation"], "range": ["#3535ff", "#ff8c8c"]}, "legend": {"title": null, "orient": "none", "legendX": 96, "legendY": 4, "symbolOpacity": 0, "symbolSize": 0, "symbolStrokeWidth": 0, "labelOffset": 0, "labelAlign": "left", "labelFont": "Liberation Serif", "labelFontSize": 7, "rowPadding": 1, "padding": 0, "encode": {"labels": {"update": {"fill": {"signal": "datum.value === 'Mean deviation' ? '#2b2bff' : '#ff3b3b'"}}}}}}}},
{"mark": {"type": "line", "strokeWidth": 1.3}, "encoding": {"y": {"field": "h", "type": "quantitative"}, "x": {"field": "m", "type": "quantitative"}, "order": {"field": "h"}, "color": {"datum": "Mean deviation", "type": "nominal"}}}
]}
], "spacing": 4, "resolve": {"scale": {"color": "independent"}}}
]
}
]
}
],
"config": {
"font": "Liberation Serif",
"view": {"stroke": "#777", "strokeWidth": 0.7},
"axis": {"labelFont": "Liberation Sans", "labelFontSize": 5.5, "labelColor": "#222", "labelOverlap": false, "titleFont": "Liberation Serif", "titleFontSize": 7, "titleFontWeight": "normal", "titleColor": "#222", "tickSize": 2, "tickColor": "#888", "domainColor": "#777", "domainWidth": 0.7, "gridColor": "#e4e4e4", "gridWidth": 0.6, "labelPadding": 1, "titlePadding": 0.5, "labelFlush": false}
}
}
